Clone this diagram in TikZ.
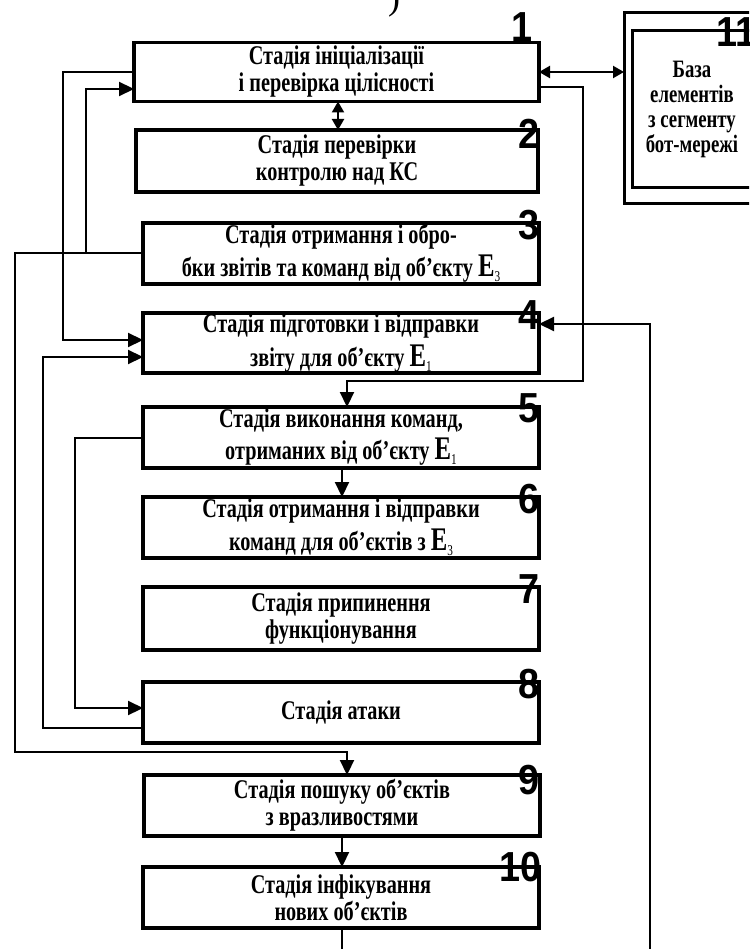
\documentclass[tikz,border=0pt]{standalone}
\usepackage{fontspec}
\setmainfont{Liberation Serif}[FakeStretch=0.75]
\newfontfamily\efont{Liberation Serif}
\newfontfamily\numfont{Liberation Sans}[FakeStretch=0.9]
\usetikzlibrary{arrows.meta}

% large E with a small lowered index, as used for object names
\newcommand{\objE}[1]{{\fontsize{33}{27}\selectfont E}\raisebox{-5pt}{\fontsize{15}{15}\selectfont\mdseries #1}}

\tikzset{
  stagebox/.style={draw, line width=3.4pt, minimum width=396pt, inner sep=0pt,
    outer sep=0pt, align=center, font=\fontsize{27}{27}\selectfont\bfseries},
  stagenum/.style={anchor=east, inner sep=0pt,
    font=\numfont\bfseries\fontsize{42}{42}\selectfont},
  basebox/.style={draw, line width=3pt, inner sep=0pt, outer sep=0pt},
  conn/.style={line width=2.2pt},
  arr/.style={-{Triangle[length=15pt,width=14pt]}},
  darr/.style={{Triangle[length=11pt,width=12pt]}-{Triangle[length=11pt,width=12pt]}},
}

\begin{document}
\begin{tikzpicture}[x=1pt,y=-1pt]
\useasboundingbox (0,0) rectangle (749,949);
\clip (0,0) rectangle (749,949);
\fill[white] (0,0) rectangle (749,949);

% fragment of a caption bracket at the top edge
\node[anchor=south, inner sep=0pt, font=\efont\fontsize{36}{36}\selectfont] (paren) at (394,17) {)};

% stage boxes
\node[stagebox, minimum width=405pt, minimum height=59pt] (b1) at (336.5,72)
  {Стадія ініціалізації\\і перевірка цілісності};
\node[stagebox, minimum width=402pt, minimum height=62pt] (b2) at (337,161)
  {Стадія перевірки\\контролю над КС};
\node[stagebox, minimum height=61pt] (b3) at (341,253.5)
  {Стадія отримання і обро-\\[5pt]бки звітів та команд від об’єкту \objE{3}};
\node[stagebox, minimum height=60pt] (b4) at (341,343)
  {Стадія підготовки і відправки\\[5pt]звіту для об’єкту \objE{1}};
\node[stagebox, minimum height=61pt] (b5) at (341,437.5)
  {Стадія виконання команд,\\[5pt]отриманих від об’єкту \objE{1}};
\node[stagebox, minimum height=61pt] (b6) at (341,527.5)
  {Стадія отримання і відправки\\[5pt]команд для об’єктів з \objE{3}};
\node[stagebox, minimum height=63pt] (b7) at (341,618.5)
  {Стадія припинення\\функціонування};
\node[stagebox, minimum height=61pt] (b8) at (341,712.5)
  {Стадія атаки};
\node[stagebox, minimum height=61pt] (b9) at (342,805.5)
  {Стадія пошуку об’єктів\\з вразливостями};
\node[stagebox, minimum height=61pt] (b10) at (341,897.5)
  {Стадія інфікування\\нових об’єктів};

% database of bot-net segment elements (frames run past the right edge)
\node[basebox, minimum width=136pt, minimum height=191pt] (b11o) at (692,108.5) {};
\node[inner sep=0pt, outer sep=0pt, minimum width=120pt, minimum height=157pt, align=center,
  font=\fontsize{25}{25.3}\selectfont\bfseries] (b11) at (692,109.5)
  {База\\елементів\\з сегменту\\бот-мережі};
\draw[line width=3pt] (b11.north west) rectangle ([xshift=20pt]b11.south east);

% stage numbers
\node[stagenum] (n1) at (533,27) {1};
\node[stagenum] (n2) at (540,134) {2};
\node[stagenum] (n3) at (540,225) {3};
\node[stagenum] (n4) at (540,315) {4};
\node[stagenum] (n5) at (540,408) {5};
\node[stagenum] (n6) at (540,499) {6};
\node[stagenum] (n7) at (540,589) {7};
\node[stagenum] (n8) at (540,684) {8};
\node[stagenum] (n9) at (540,780) {9};
\node[stagenum] (n10) at (542,867) {10};
\node[stagenum, anchor=west] (n11) at (716,32) {11};

% connectors
\coordinate (loopin) at (650,960);
\coordinate (loopout) at (342,960);

\draw[conn, darr] (b1.east |- 0,72) -- (b11o.west |- 0,72);
\draw[conn, darr] (b1.south -| 338,0) -- (b2.north -| 338,0);
\draw[conn, arr] (b1.west |- 0,72) -- (63,72) |- (b4.west |- 0,340);
\draw[conn, arr] (b3.west |- 0,253) -- (86,253) |- (b1.west |- 0,89);
\draw[conn, arr] (86,253) -- (15,253) |- (347,752) -- (b9.north -| 347,0);
\draw[conn, arr] (b1.east |- 0,87) -- (583,87) |- (347,381) -- (b5.north -| 347,0);
\draw[conn, arr] (loopin) |- (b4.east |- 0,324);
\draw[conn, arr] (b8.west |- 0,728) -- (43,728) |- (b4.west |- 0,357);
\draw[conn, arr] (b5.west |- 0,438) -- (75,438) |- (b8.west |- 0,708);
\draw[conn, arr] (b5.south -| 342,0) -- (b6.north -| 342,0);
\draw[conn, arr] (b9.south -| 342,0) -- (b10.north -| 342,0);
\draw[conn] (b10.south -| 342,0) -- (loopout);
\end{tikzpicture}
\end{document}
